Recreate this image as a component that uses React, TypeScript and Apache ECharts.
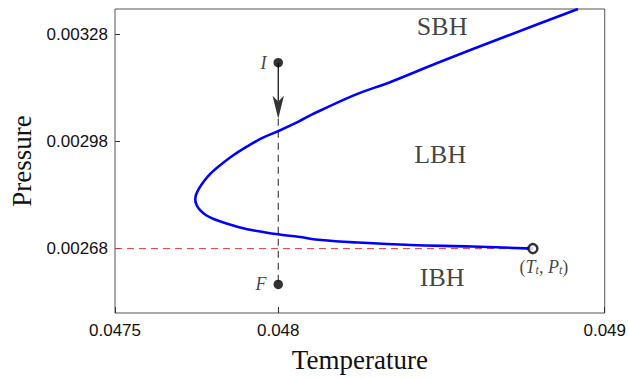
import React, { useEffect, useRef } from "react";
import * as echarts from "echarts";

// Coexistence curve (temperature, pressure), from the top edge round the nose to the end point
const curveT = [
  0.048918, 0.048702, 0.048487, 0.048344, 0.048235, 0.048101, 0.048062, 0.048001, 0.04795, 0.0479,
  0.047859, 0.047819, 0.047794, 0.047773, 0.047758, 0.047748, 0.047746, 0.04775, 0.04776, 0.047778,
  0.047804, 0.047839, 0.04788, 0.04793, 0.047999, 0.048062, 0.048132, 0.048244, 0.048405, 0.048593, 0.04878,
];
const curveP = [
  0.00335, 0.003275, 0.003199, 0.003146, 0.00311, 0.003054, 0.003035, 0.003009, 0.002989, 0.002963,
  0.002939, 0.002911, 0.002891, 0.002869, 0.002849, 0.00283, 0.002816, 0.002802, 0.002788, 0.002774,
  0.002762, 0.002751, 0.00274, 0.00273, 0.00272, 0.002713, 0.002704, 0.002697, 0.00269, 0.002686, 0.00268,
];

// Axis ranges and tick values
const xRange = [0.0475, 0.049];
const yRange = [0.0025, 0.00335];
const xTicks = [0.0475, 0.048, 0.049];
const yTicks = [0.00268, 0.00298, 0.00328];

// Triple point (T_t, P_t)
const tripleT = 0.04878;
const tripleP = 0.00268;

// Isothermal process from I to F at T = 0.048
const processT = 0.048;
const initialP = 0.0032;
const finalP = 0.00258;
const arrowBackP = 0.003093;
const arrowTipP = 0.003043;

// Region labels
const regionNames = ["SBH", "LBH", "IBH"];
const regionT = [0.048502, 0.048496, 0.048502];
const regionP = [0.003301, 0.002942, 0.002598];

const SERIF = "'Liberation Serif', 'DejaVu Serif', serif";
const SANS = "'Liberation Sans', Arial, sans-serif";

export default function App() {
  const ref = useRef<HTMLDivElement>(null);

  useEffect(() => {
    document.body.style.margin = "0";
    const chart = echarts.init(ref.current!, null, { renderer: "svg" });
    const curve = curveT.map((t, i) => [t, curveP[i]]);

    chart.setOption({
      animation: false,
      backgroundColor: "#ffffff",
      grid: {
        left: 115,
        right: 20,
        top: 9,
        bottom: 64.5,
        show: true,
        borderColor: "#555",
        borderWidth: 1,
        backgroundColor: "transparent",
      },
      xAxis: {
        type: "value",
        min: xRange[0],
        max: xRange[1],
        name: "Temperature",
        nameLocation: "middle",
        nameGap: 33,
        nameTextStyle: { fontFamily: SERIF, fontSize: 27, color: "#111" },
        axisLine: { show: false },
        splitLine: { show: false },
        axisTick: { show: true, inside: true, length: 6, customValues: xTicks, lineStyle: { color: "#333" } },
        axisLabel: {
          customValues: xTicks,
          fontFamily: SANS,
          fontSize: 17,
          color: "#111",
          margin: 9,
          formatter: (v: number) => String(v),
        },
      },
      yAxis: {
        type: "value",
        min: yRange[0],
        max: yRange[1],
        name: "Pressure",
        nameLocation: "middle",
        nameGap: 78,
        nameTextStyle: { fontFamily: SERIF, fontSize: 27, color: "#111" },
        axisLine: { show: false },
        splitLine: { show: false },
        axisTick: { show: true, inside: true, length: 5, customValues: yTicks, lineStyle: { color: "#333" } },
        axisLabel: {
          customValues: yTicks,
          fontFamily: SANS,
          fontSize: 17,
          color: "#111",
          margin: 7,
          formatter: (v: number) => String(v),
        },
      },
      series: [
        {
          type: "line",
          data: [[xRange[0], tripleP], [tripleT, tripleP]],
          showSymbol: false,
          silent: true,
          lineStyle: { color: "#e03a3a", width: 1, type: [7, 5] },
          z: 1,
        },
        {
          type: "line",
          data: [[processT, arrowTipP], [processT, finalP]],
          showSymbol: false,
          silent: true,
          lineStyle: { color: "#222", width: 1, type: [7, 5] },
          z: 1,
        },
        {
          type: "line",
          data: [[processT, initialP], [processT, arrowBackP]],
          showSymbol: false,
          silent: true,
          lineStyle: { color: "#000", width: 1.2 },
          z: 3,
        },
        {
          type: "scatter",
          data: [[processT, arrowTipP]],
          symbol: "arrow",
          symbolRotate: 180,
          symbolSize: [8.5, 23],
          itemStyle: { color: "#000" },
          silent: true,
          z: 3,
        },
        {
          type: "line",
          data: curve,
          showSymbol: false,
          smooth: 0.35,
          silent: true,
          lineStyle: { color: "#0000ff", width: 2.6 },
          z: 2,
        },
        {
          type: "scatter",
          data: [
            { name: "I", value: [processT, initialP] },
            { name: "F", value: [processT, finalP] },
          ],
          symbol: "circle",
          symbolSize: 9.5,
          itemStyle: { color: "#000" },
          label: {
            show: true,
            position: "left",
            distance: 7,
            formatter: "{b}",
            fontFamily: SERIF,
            fontStyle: "italic",
            fontSize: 18,
            color: "#111",
          },
          z: 4,
        },
        {
          type: "scatter",
          data: [{ name: "triple", value: [tripleT, tripleP] }],
          symbol: "circle",
          symbolSize: 9,
          itemStyle: { color: "#fff", borderColor: "#000", borderWidth: 2.5 },
          label: {
            show: true,
            position: "bottom",
            distance: 3,
            offset: [11, 0],
            formatter: "({i|T}{s|t}, {i|P}{s|t})",
            fontFamily: SERIF,
            fontSize: 18,
            color: "#111",
            rich: {
              i: { fontFamily: SERIF, fontStyle: "italic", fontSize: 18, color: "#111" },
              s: { fontFamily: SERIF, fontStyle: "italic", fontSize: 12, color: "#111", verticalAlign: "bottom", padding: [7, 0, 0, 0] },
            },
          },
          z: 4,
        },
        {
          type: "scatter",
          data: regionNames.map((n, i) => ({ name: n, value: [regionT[i], regionP[i]] })),
          symbolSize: 0,
          silent: true,
          label: {
            show: true,
            position: "inside",
            formatter: "{b}",
            fontFamily: SERIF,
            fontSize: 26,
            color: "#111",
          },
          z: 4,
        },
      ],
    });
    return () => chart.dispose();
  }, []);

  return (
    <div
      ref={ref}
      style={{ position: "fixed", left: 0, top: 0, width: 629, height: 378 }}
    />
  );
}
